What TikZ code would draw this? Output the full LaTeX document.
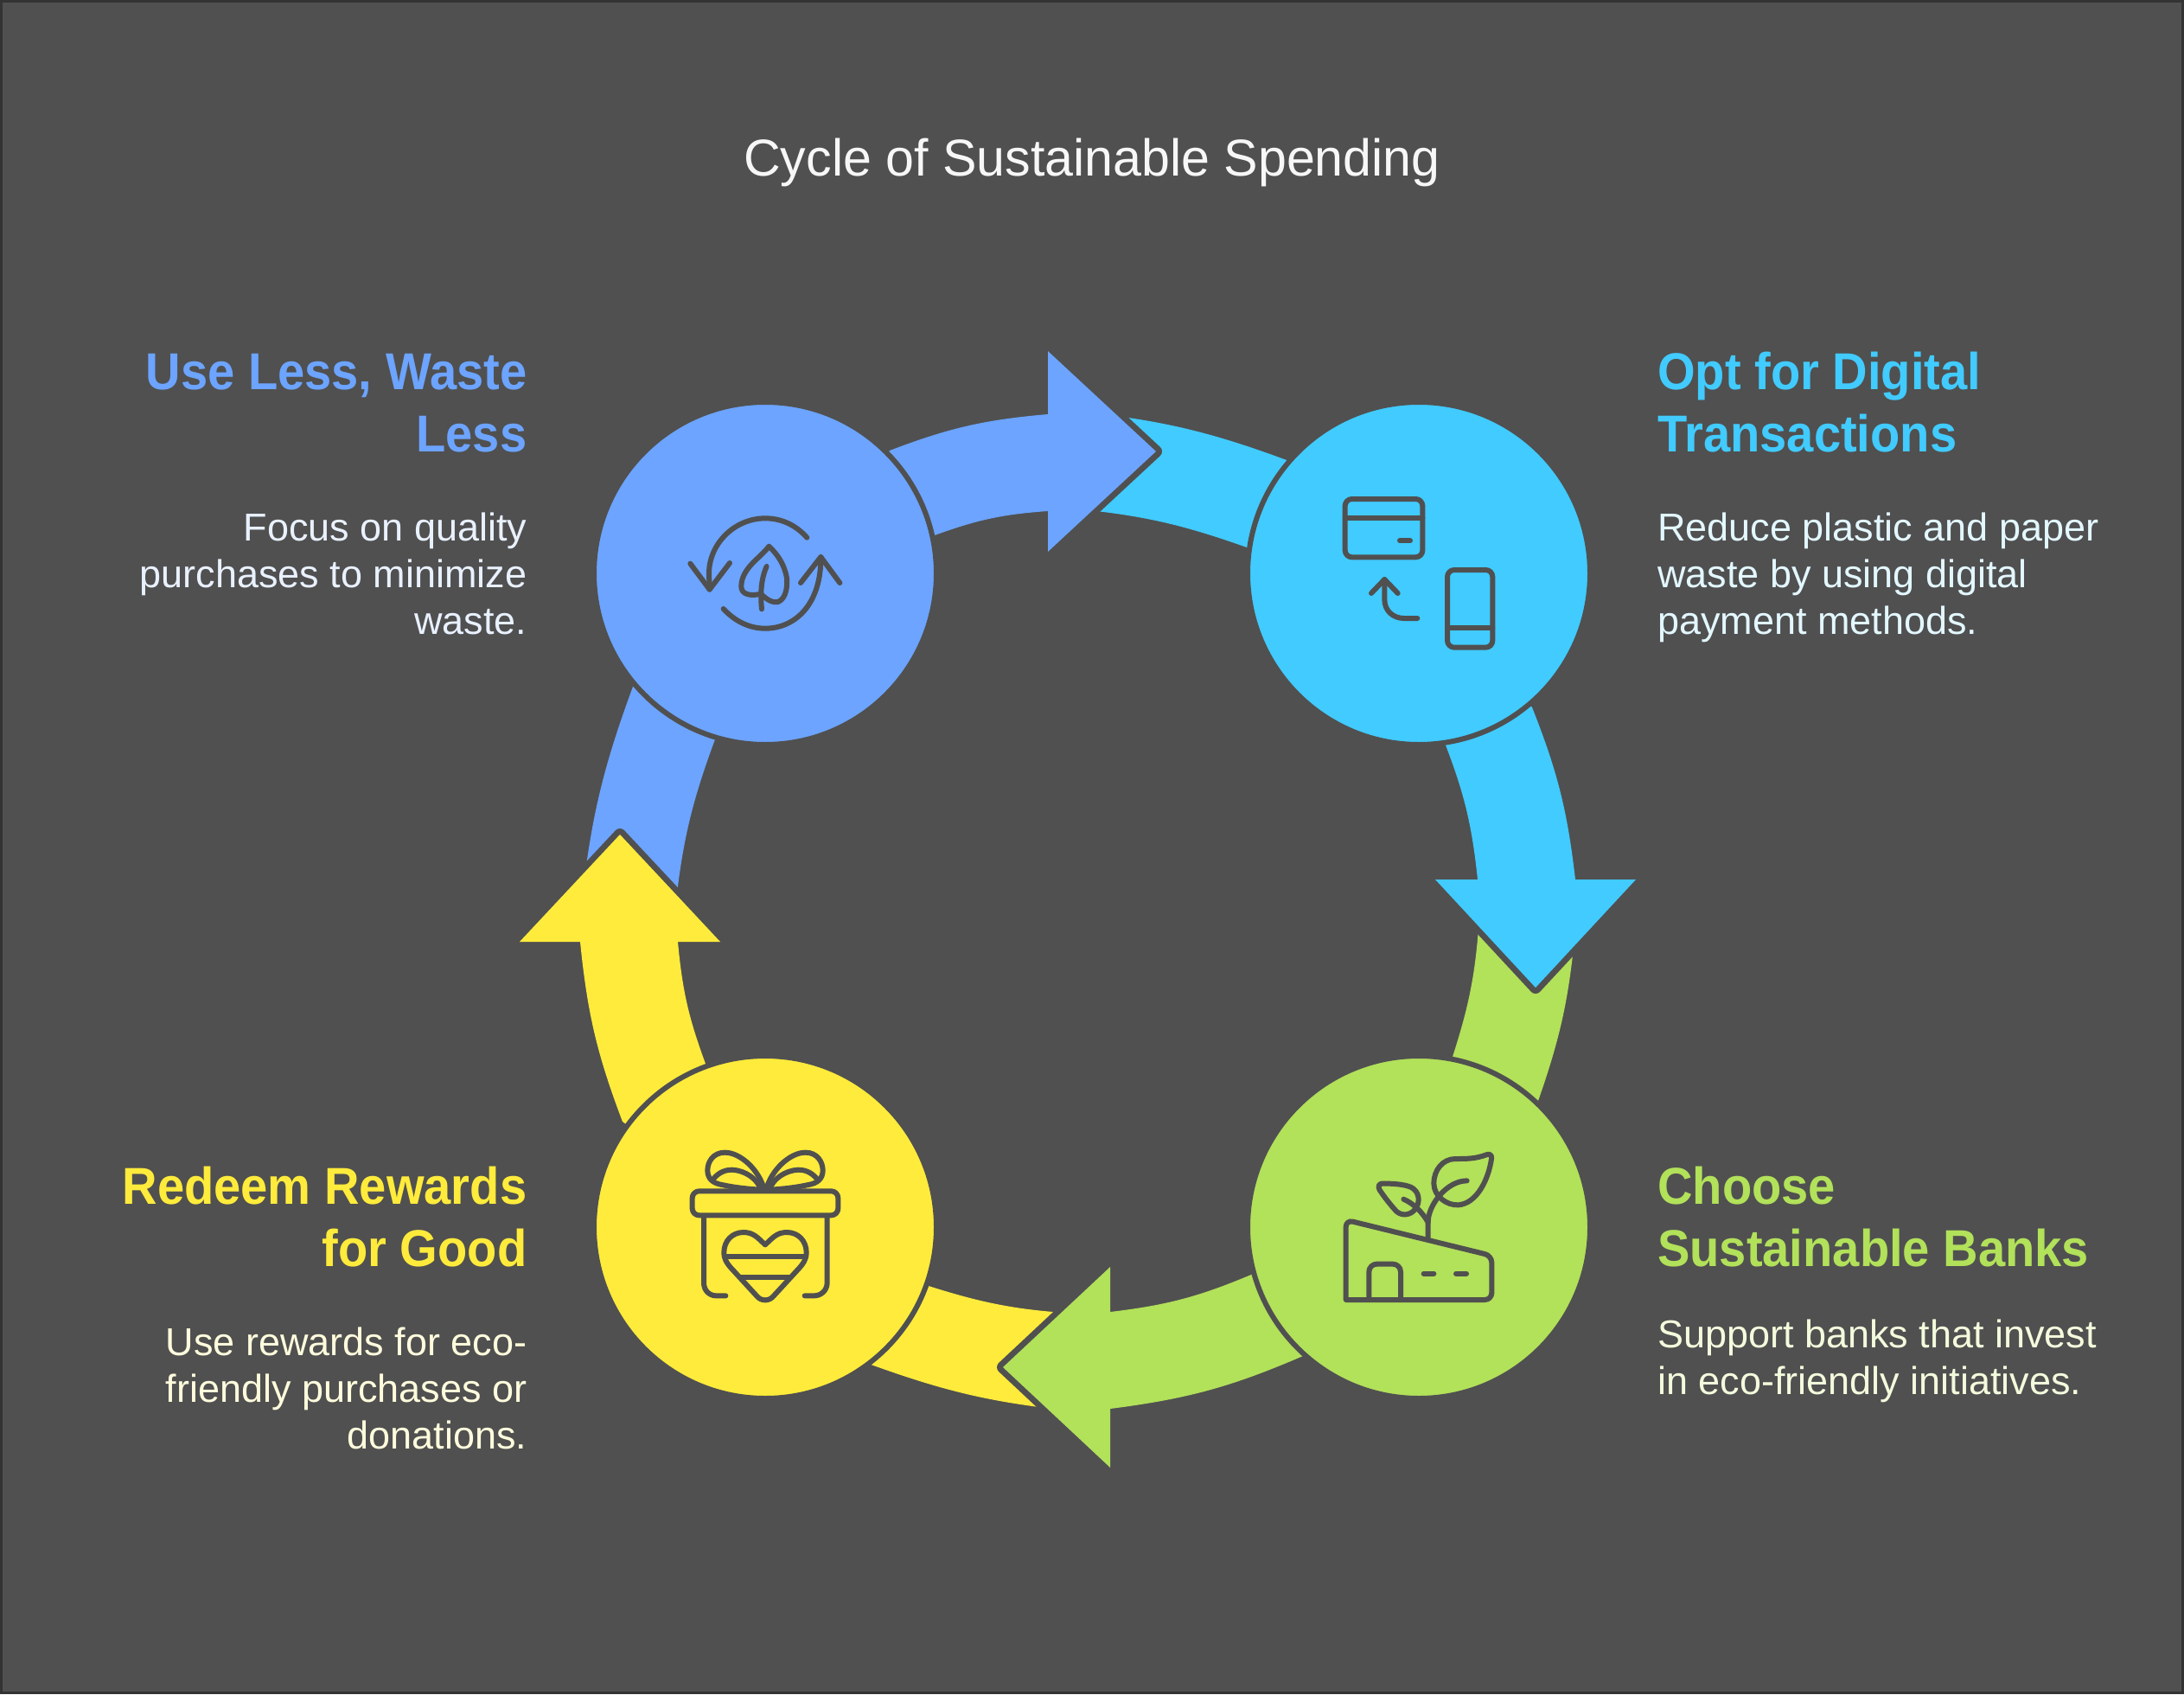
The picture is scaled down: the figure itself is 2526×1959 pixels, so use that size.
\documentclass[tikz,border=0pt]{standalone}
\usepackage{fontspec}
\setmainfont{Liberation Sans}
\newfontfamily\titlefont[FakeStretch=0.986]{Liberation Sans}
\newfontfamily\headfont[FakeStretch=0.935]{Liberation Sans}
\newfontfamily\copyfont{Liberation Sans}
\definecolor{bgc}{HTML}{505050}
\definecolor{edgec}{HTML}{333333}
\definecolor{titlec}{HTML}{F7F7F7}
\definecolor{bluec}{HTML}{6CA4FF}
\definecolor{cyanc}{HTML}{41CBFF}
\definecolor{greenc}{HTML}{B2E15A}
\definecolor{yellowc}{HTML}{FFEB3B}
\definecolor{bluet}{HTML}{E9F1FF}
\definecolor{cyant}{HTML}{E3F7FF}
\definecolor{greent}{HTML}{F3FBDD}
\definecolor{yellowt}{HTML}{FFFCDD}
\tikzset{
  ringarrow/.style={fill=#1,preaction={draw=bgc,line width=14pt,line join=round}},
  ringtail/.style={fill=#1},
  stepdisc/.style={circle,fill=#1,draw=bgc,line width=6pt,minimum size=396pt,inner sep=0pt,outer sep=0pt},
  iconline/.style={draw=bgc,line width=6pt,line cap=round,line join=round},
  heading/.style={font=\headfont\fontsize{60}{72}\selectfont\bfseries,text=#1,inner sep=0pt},
  bodytext/.style={font=\copyfont\fontsize{45}{54}\selectfont,text=#1,inner sep=0pt},
  icon3x/.style={shift={#1},scale=1/3},
}
\begin{document}
\begin{tikzpicture}[x=1pt,y=-1pt]
\useasboundingbox (0,0) rectangle (2526,1959);
\fill[edgec] (0,0) rectangle (2526,1959);
\fill[bgc] (3,3) rectangle (2523,1956);

\coordinate (cb) at (885,663);
\coordinate (cc) at (1641,663);
\coordinate (cg) at (1641,1419);
\coordinate (cy) at (885,1419);

% tails
\path[ringtail=cyanc] (1250,476) to[bend left=7] (1488,532) -- (cc) -- (1442,633) to[bend right=7] (1240,588) -- cycle;
\path[ringtail=greenc] (1822,1075) to[bend left=7] (1779,1273) -- (cg) -- (1680,1222) to[bend right=7] (1711,1060) -- cycle;
\path[ringtail=yellowc] (1245,1632) to[bend left=7] (1007.5,1578) -- (cy) -- (1074,1487) to[bend right=7] (1245,1519) -- cycle;
\path[ringtail=bluec] (672,1050) to[bend left=7] (732,794) -- (cb) -- (827,855) to[bend right=7] (781,1050) -- cycle;

% arrows
\path[ringarrow=bluec] (cb) -- (1029,521) to[bend left=8] (1212,479) -- (1212,406) -- (1337,522) -- (1212,638) -- (1212,591) to[bend right=8] (1081,619) -- cycle;
\path[ringarrow=cyanc] (cc) -- (1772,818) to[bend left=7.5] (1822,1017) -- (1892,1017) -- (1776,1142) -- (1660,1017) -- (1709,1017) to[bend right=7.5] (1671,859) -- cycle;
\path[ringarrow=greenc] (cg) -- (1507,1568) to[bend left=8] (1284,1629) -- (1284,1697) -- (1160,1581) -- (1284,1465) -- (1284,1517) to[bend right=8] (1447,1474) -- cycle;
\path[ringarrow=yellowc] (cy) -- (720,1297) to[bend left=7.5] (671,1089) -- (601,1089) -- (717,965) -- (833,1089) -- (784,1089) to[bend right=7.5] (816,1230) -- cycle;

% discs
\node[stepdisc=bluec] (nb) at (cb) {};
\node[stepdisc=cyanc] (nc) at (cc) {};
\node[stepdisc=greenc] (ng) at (cg) {};
\node[stepdisc=yellowc] (ny) at (cy) {};

% recycling leaf icon
\begin{scope}[icon3x={(770,570)}]
\draw[iconline] (490,155) .. controls (450,110) and (400,88) .. (345,88) .. controls (240,88) and (150,175) .. (150,280) -- (152,335);
\draw[iconline] (85,245) -- (152,335) -- (222,243);
\draw[iconline] (200,402) .. controls (240,445) and (290,470) .. (345,470) .. controls (450,470) and (540,385) .. (538,222);
\draw[iconline] (468,312) -- (538,222) -- (604,312);
\draw[iconline] (358,185) .. controls (330,225) and (262,260) .. (262,325) .. controls (262,355) and (300,358) .. (330,350) .. controls (350,370) and (370,382) .. (390,378) .. controls (420,365) and (422,320) .. (420,295) .. controls (412,250) and (390,215) .. (358,185) -- cycle;
\draw[iconline] (350,255) .. controls (330,300) and (328,350) .. (333,403);
\end{scope}

% card and phone icon
\begin{scope}[icon3x={(1400,500)}]
\draw[iconline,rounded corners=8pt] (467,231) rectangle (736,433);
\draw[iconline] (467,298) -- (736,298);
\draw[iconline] (657,376) -- (693,376);
\draw[iconline] (558,558) -- (604,510) -- (650,558);
\draw[iconline] (604,510) -- (604,580) .. controls (604,620) and (635,645) .. (672,645) -- (718,645);
\draw[iconline,rounded corners=8pt] (822,477) rectangle (979,746);
\draw[iconline] (822,679) -- (979,679);
\end{scope}

% building and sprout icon
\begin{scope}[icon3x={(1500,1290)}]
\draw[iconline] (170,639) [rounded corners=8pt] -- (170,362) -- (676,486) -- (676,639) [sharp corners] -- cycle;
\draw[iconline] (250,639) [rounded corners=9pt] -- (250,515) -- (360,515) [sharp corners] -- (360,639);
\draw[iconline] (440,548) -- (475,548);
\draw[iconline] (552,548) -- (588,548);
\draw[iconline] (455,430) -- (455,370) .. controls (455,310) and (520,226) .. (590,226);
\draw[iconline] (660,135) .. controls (620,150) and (590,150) .. (550,150) .. controls (505,150) and (475,190) .. (475,235) .. controls (475,280) and (520,312) .. (560,310) .. controls (625,305) and (665,220) .. (675,150) .. controls (677,138) and (670,132) .. (660,135) -- cycle;
\draw[iconline] (295,236) .. controls (330,235) and (370,238) .. (395,248) .. controls (425,262) and (430,300) .. (410,325) .. controls (395,345) and (365,350) .. (345,332) .. controls (325,310) and (305,285) .. (287,258) .. controls (280,246) and (285,236) .. (295,236) -- cycle;
\draw[iconline] (370,290) .. controls (405,305) and (435,335) .. (455,370);
\end{scope}

% gift icon
\begin{scope}[icon3x={(760,1300)}]
\draw[iconline,rounded corners=8pt] (122,232) rectangle (628,316);
\draw[iconline] (162,320) -- (162,550) .. controls (162,575) and (180,595) .. (205,595) -- (238,595);
\draw[iconline] (590,320) -- (590,550) .. controls (590,575) and (570,595) .. (545,595) -- (512,595);
\draw[iconline] (375,418) .. controls (350,395) and (335,375) .. (300,375) .. controls (260,375) and (232,405) .. (232,445) .. controls (232,470) and (245,485) .. (255,497) -- (345,595) .. controls (360,615) and (390,615) .. (405,595) -- (495,497) .. controls (505,485) and (518,470) .. (518,445) .. controls (518,405) and (490,375) .. (450,375) .. controls (415,375) and (400,395) .. (375,418) -- cycle;
\draw[iconline] (235,458) -- (515,458);
\draw[iconline] (292,530) -- (458,530);
\draw[iconline] (372,228) .. controls (355,160) and (290,98) .. (235,98) .. controls (195,98) and (175,130) .. (175,160) .. controls (175,190) and (195,205) .. (225,210) .. controls (270,220) and (320,225) .. (372,228);
\draw[iconline] (195,190) .. controls (215,165) and (240,158) .. (260,158) .. controls (305,160) and (350,190) .. (360,228);
\draw[iconline] (378,228) .. controls (395,160) and (460,98) .. (515,98) .. controls (555,98) and (575,130) .. (575,160) .. controls (575,190) and (555,205) .. (525,210) .. controls (480,220) and (430,225) .. (378,228);
\draw[iconline] (555,190) .. controls (535,165) and (510,158) .. (490,158) .. controls (445,160) and (400,190) .. (390,228);
\end{scope}

% texts (a multi-line node's base is its last line)
\node[font=\titlefont\fontsize{60}{72}\selectfont,text=titlec,inner sep=0pt,anchor=base] (title) at (1263,203.5) {Cycle of Sustainable Spending};

\node[heading=bluec,anchor=base east,align=right] (hb) at (609.5,522) {Use Less, Waste\\Less};
\node[bodytext=bluet,anchor=base east,align=right] (tb) at (609.5,733) {Focus on quality\\purchases to minimize\\waste.};

\node[heading=cyanc,anchor=base west,align=left] (hc) at (1917,522) {Opt for Digital\\Transactions};
\node[bodytext=cyant,anchor=base west,align=left] (tc) at (1917,733) {Reduce plastic and paper\\waste by using digital\\payment methods.};

\node[heading=greenc,anchor=base west,align=left] (hg) at (1917,1464) {Choose\\Sustainable Banks};
\node[bodytext=greent,anchor=base west,align=left] (tg) at (1917,1612) {Support banks that invest\\in eco-friendly initiatives.};

\node[heading=yellowc,anchor=base east,align=right] (hy) at (609.5,1464) {Redeem Rewards\\for Good};
\node[bodytext=yellowt,anchor=base east,align=right] (ty) at (609.5,1675) {Use rewards for eco-\\friendly purchases or\\donations.};
\end{tikzpicture}
\end{document}
